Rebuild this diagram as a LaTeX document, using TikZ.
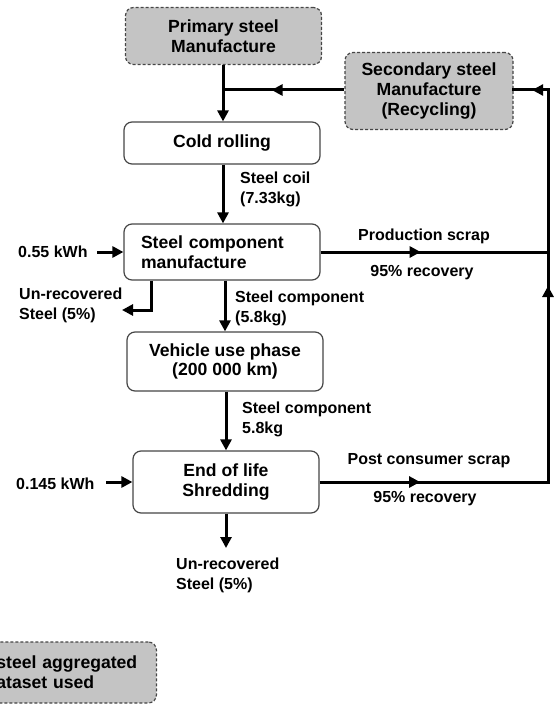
\documentclass[tikz,border=0pt]{standalone}
\usepackage{fontspec}
\setmainfont{Liberation Sans}
\usetikzlibrary{arrows.meta,decorations.markings}
\definecolor{boxgray}{RGB}{196,196,196}
\definecolor{edgegray}{RGB}{70,70,70}
\begin{document}
\begin{tikzpicture}[x=1pt,y=-1pt,
  lbl/.style={font=\fontsize{16}{20}\selectfont\bfseries, inner sep=0pt, align=left},
  proc/.style={draw=edgegray, line width=1.2pt, rounded corners=8pt, fill=white,
    font=\fontsize{17.6}{19.6}\selectfont\bfseries, align=center, inner sep=0pt},
  ext/.style={proc, fill=boxgray, dashed, dash pattern=on 3pt off 2pt},
  flow/.style={line width=3pt, draw=black, line join=miter},
  tip/.style={-{Triangle[length=11pt,width=11pt]}},
  midarrow/.style={postaction={decorate}, decoration={markings,
    mark=at position #1 with {\arrow{Triangle[length=11pt,width=11pt]}}}}
]
\useasboundingbox (0,0) rectangle (555,706);

% process chain
\node[ext, minimum width=196pt, minimum height=57pt] (prim) at (223.5,36) {Primary steel\\Manufacture};
\node[ext, minimum width=168pt, minimum height=77pt] (sec) at (429,91) {Secondary steel\\Manufacture\\(Recycling)};
\node[proc, minimum width=196pt, minimum height=42pt] (cold) at (222,143) {Cold rolling};
\node[proc, minimum height=56pt, text width=162pt, inner xsep=17pt, align=left] (scm) at (222,252) {Steel component\\manufacture};
\node[proc, minimum width=196pt, minimum height=59pt] (veh) at (225,361.5) {Vehicle use phase\\(200 000 km)};
\node[proc, minimum width=186pt, minimum height=62pt] (eol) at (226,482) {End of life\\Shredding};

% legend box, cut by the left edge
\begin{scope}
  \clip (0,0) rectangle (555,706);
  \node[ext, text width=142pt, inner xsep=18pt, minimum height=61pt, align=left, anchor=east] (agg) at (157,672.5) {steel aggregated\\ataset used};
\end{scope}

% helper points
\coordinate (j) at (223,90);
\coordinate (r1) at (548,0 |- eol.east);
\coordinate (r2) at (548,0 |- scm.east);
\coordinate (r3) at (548,90);
\coordinate (u1) at (151,310);
\coordinate (u2) at (122,310);
\coordinate (w1) at (97,252);
\coordinate (w2) at (106,482);
\coordinate (d1) at (eol.south |- 0,548);

% main flow
\draw[flow, tip] (prim.south -| j) -- (cold.north -| j);
\draw[flow, midarrow=0.6] (sec.west |- j) -- (j);
\draw[flow, tip] (cold.south -| j) -- (scm.north -| j);
\draw[flow, tip] (scm.south -| veh.north) -- (veh.north);
\draw[flow, tip] (veh.south -| eol.north) -- (eol.north);
\draw[flow, tip] (eol.south) -- (d1);
\draw[flow, tip] (scm.south -| u1) -- (u1) -- (u2);

% energy inputs
\draw[flow, tip] (w1) -- (scm.west |- w1);
\draw[flow, tip] (w2) -- (eol.west |- w2);

% scrap recycling loop
\draw[flow, midarrow=0.44] (scm.east) -- (r2);
\draw[flow, midarrow=0.44] (eol.east) -- (r1);
\draw[flow, line cap=rect, midarrow=0.5] (r1) -- (r3);
\draw[flow, line cap=rect, midarrow=0.46] (r3) -- (sec.east |- r3);

% labels
\node[lbl, anchor=west] (l1) at (18,252) {0.55 kWh};
\node[lbl, anchor=west] (l2) at (16,484) {0.145 kWh};
\node[lbl, anchor=west] (l3) at (240,189) {Steel coil\\(7.33kg)};
\node[lbl] (l4) at (424,236) {Production scrap};
\node[lbl] (l5) at (422,273) {95\% recovery};
\node[lbl, anchor=west] (l6) at (19,305.5) {Un-recovered\\Steel (5\%)};
\node[lbl, anchor=west] (l7) at (235,308.5) {Steel component\\(5.8kg)};
\node[lbl, anchor=west] (l8) at (242,419) {Steel component\\5.8kg};
\node[lbl] (l9) at (429,461) {Post consumer scrap};
\node[lbl] (l10) at (425,499) {95\% recovery};
\node[lbl, anchor=west] (l11) at (176,575) {Un-recovered\\Steel (5\%)};
\end{tikzpicture}
\end{document}
